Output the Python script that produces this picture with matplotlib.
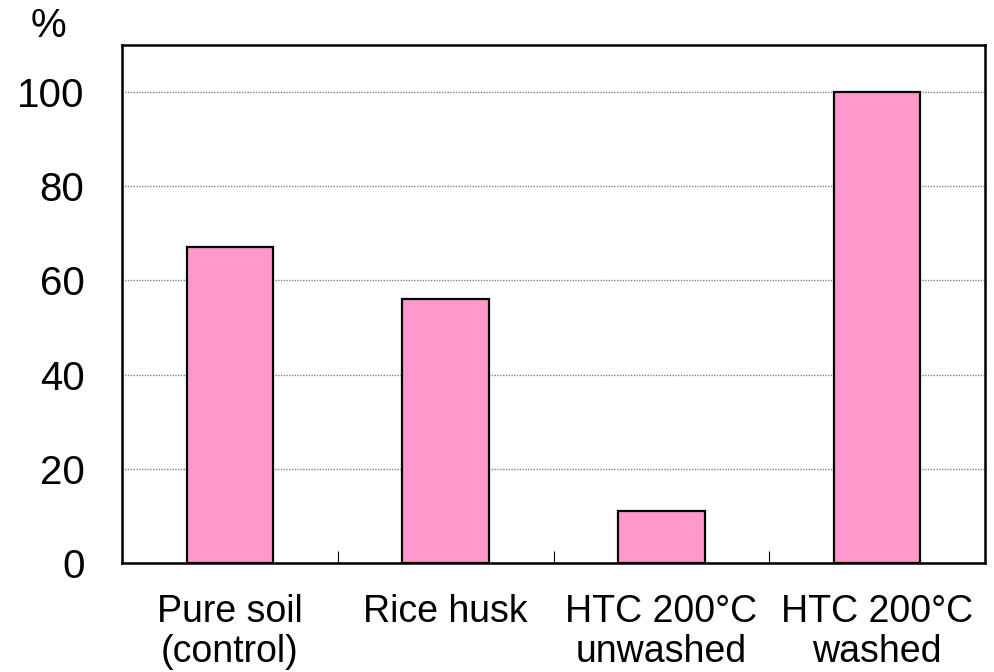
import numpy as np
import matplotlib.pyplot as plt
from matplotlib.ticker import FixedLocator

plt.rcParams['font.family'] = ['Liberation Sans', 'DejaVu Sans']

# bar data
categories = ['Pure soil\n(control)', 'Rice husk', 'HTC 200°C\nunwashed', 'HTC 200°C\nwashed']
values = [67, 56, 11, 100]
y_ticks = [0, 20, 40, 60, 80, 100]

fig = plt.figure(figsize=(9.94, 6.72), dpi=100)
ax = fig.add_axes([122 / 994, 1 - 563 / 672, (985 - 122) / 994, (563 - 45) / 672])

x = np.arange(len(categories))
ax.bar(x, values, width=0.4, color='#FF99CC', edgecolor='black', linewidth=1.6, zorder=3)

ax.set_xlim(-0.5, len(categories) - 0.5)
ax.set_ylim(0, 110)

# dotted horizontal grid, no y tick marks
ax.set_yticks(y_ticks)
ax.yaxis.grid(True, color='#808080', linestyle=(0, (1, 1)), linewidth=1.0, zorder=0)
ax.tick_params(axis='y', length=0, pad=27, labelsize=29)

# labels under bars, separator ticks between categories
ax.set_xticks(x)
ax.set_xticklabels(categories, fontsize=27, linespacing=1.17)
ax.tick_params(axis='x', which='major', length=0, pad=22)
ax.xaxis.set_minor_locator(FixedLocator(x[:-1] + 0.5))
ax.tick_params(axis='x', which='minor', direction='in', length=9, width=0.8, color='black')

for s in ax.spines.values():
    s.set_linewidth(1.8)
    s.set_zorder(4)

fig.text(48 / 994, 1 - 26 / 672, '%', fontsize=29, ha='center', va='center')

fig.savefig('out.png', dpi=100)
